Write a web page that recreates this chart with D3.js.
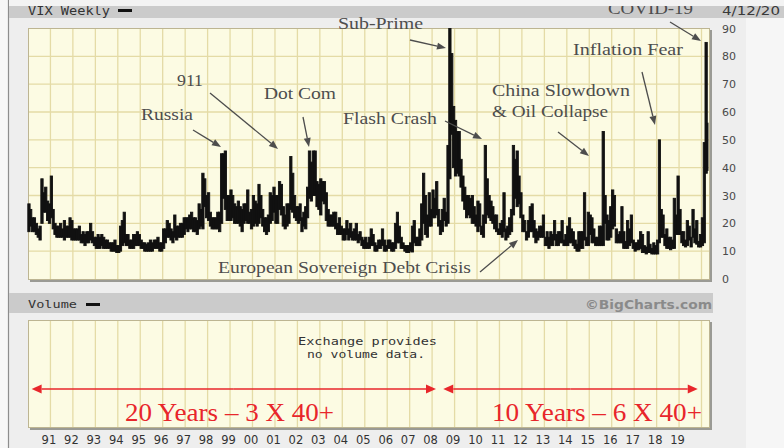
<!DOCTYPE html>
<html><head><meta charset="utf-8">
<script src="https://cdn.jsdelivr.net/npm/d3@7"></script>
<style>html,body{margin:0;padding:0;background:#fff;}svg{display:block}</style>
</head><body>
<svg id="c" width="784" height="448"></svg>
<script>
// ---- DATA: VIX weekly bars summarised per month (low / high), Jan 1990 .. Apr 2020 ----
const firstMonth = "1990-01";
const lastDate = "2020-04-13";
const monthlyLow = [
 17,19,17,17,16,15,14,20,24,24,21,20,   // 1990
 22,18,16,15,15,15,15,14,15,15,15,14,   // 1991
 14,14,14,14,13,13,12,13,13,14,13,12,   // 1992
 11,11,11,12,11,11,11,11,10,10,10,9.5,  // 1993
 9.5,10,12,13,12,12,11,11,11,12,12,12,  // 1994
 11,11,10,10,10,10,10,11,11,11,10,10,   // 1995
 11,13,15,15,14,13,15,14,15,15,15,16,   // 1996
 18,17,18,18,17,17,16,18,19,18,26,22,   // 1997
 21,19,18,18,18,18,17,20,29,25,21,21,   // 1998
 21,22,20,20,20,19,17,20,21,20,20,18,   // 1999
 19,20,19,20,22,19,17,16,17,20,21,24,   // 2000
 20,20,25,23,19,18,19,20,25,24,22,21,   // 2001
 20,21,17,19,18,22,29,28,30,30,26,25,   // 2002
 23,28,27,21,19,19,19,19,18,16,16,16,   // 2003
 14,14,16,14,15,14,14,14,13,14,12,11,   // 2004
 11,11,11,12,12,10,10,11,11,12,10,10,   // 2005
 11,11,10,10,11,13,13,11,11,10,9.5,9.5, // 2006
 10,9.7,13,12,12,12,14,20,16,15,19,19,  // 2007
 22,22,23,19,16,17,21,19,20,36,52,40,   // 2008
 37,38,37,33,28,25,22,23,22,20,20,19,   // 2009
 17,19,16,15,20,23,22,21,20,18,17,16,   // 2010
 16,15,17,14,15,16,17,23,29,26,27,22,   // 2011
 17,17,14,15,17,17,15,13,14,15,15,15,   // 2012
 12,12,11,12,12,14,12,12,13,13,12,12,   // 2013
 12,13,13,12,11,10,10,11,11,14,12,12,   // 2014
 16,13,13,12,12,12,12,12,20,14,14,15,   // 2015
 18,19,13,13,13,13,11,11,11,12,13,11,   // 2016
 10,10.5,10.5,11,9.5,9.5,9,9.5,9.5,9,9,9, // 2017
 9,13,15,15,12,11,11,10.5,11,11,16,16,  // 2018
 16,13,12,11.5,12,14,11.5,15,13,12.5,11.5,11.5, // 2019
 12,13,38,39                            // 2020
];
const monthlyHigh = [
 27,25,22,22,20,18,19,36,31,33,28,27,   // 1990
 37,25,20,19,19,20,18,21,19,19,22,21,   // 1991
 18,18,18,19,16,17,16,17,17,20,17,15,   // 1992
 15,16,15,16,15,14,14,13,13,13,14,12,   // 1993
 12,19,21,24,16,16,14,14,16,16,17,16,   // 1994
 14,13,13,12.5,13,14,13,14,14,15,13,13, // 1995
 18,18,21,20,18,17,23,19,19,20,20,22,   // 1996
 22,22,23,24,22,22,21,27,25,38,36,30,   // 1997
 31,24,22,22,22,24,24,45,45,46,30,30,   // 1998
 32,30,27,26,28,26,25,27,27,32,24,25,   // 1999
 30,28,27,34,30,25,22,22,23,31,30,33,   // 2000
 30,30,35,34,26,23,27,27,44,38,30,26,   // 2001
 26,27,22,24,26,33,46,42,46,46,35,34,   // 2002
 36,35,35,31,25,23,23,24,24,20,22,19,   // 2003
 18,18,21,18,20,17,18,20,16,17,15,14,   // 2004
 15,13,15,18,16,13,12,14,14,18,14,12,   // 2005
 14,14,13,13,20,24,19,15,13,12,12,12,   // 2006
 13,19,21,15,15,18,27,38,30,23,31,25,   // 2007
 32,29,35,25,21,25,29,24,48,90,81,62,   // 2008
 57,53,53,43,37,33,30,30,29,30,26,23,   // 2009
 28,27,19,23,48,36,30,28,26,23,23,18,   // 2010
 20,21,31,18,19,22,25,48,43,46,37,31,   // 2011
 23,21,17,21,26,27,21,18,17,19,19,23,   // 2012
 15,17,15,17,16,21,16,17,17,21,14,16,   // 2013
 19,22,18,17,14,12.5,17,17,17,31,15,24, // 2014
 23,22,18,15,15,19,19,53,30,23,21,26,   // 2015
 32,30,18,16,17,26,17,13.5,21,18,23,14, // 2016
 13,13,14,17,16,12,11.5,17,12.5,11,13,12, // 2017
 14,50,25,23,16,18,15,15,14,29,23,37,   // 2018
 25,17,17,14,21,19,15,25,18,21,13.5,16, // 2019
 22,49,85,56                            // 2020
];
const yTicks = [0,10,20,30,40,50,60,70,80,90];
const yearTicks = d3.range(1991, 2020);          // labelled years 91 .. 19
const gridYears = d3.range(1991, 2021);
const annotations = [
 {text:"Sub-Prime"}, {text:"911"}, {text:"Dot Com"}, {text:"Russia"},
 {text:"Flash Crash"}, {text:"China Slowdown"}, {text:"& Oil Collapse"},
 {text:"Inflation Fear"}, {text:"European Sovereign Debt Crisis"}, {text:"COVID-19"}
];
const periodNotes = ["20 Years \u2013 3 X 40+", "10 Years \u2013 6 X 40+"];

// ---- LAYOUT ----
const annLayout = [
 {x:338,y:29,w:85, ax:[410,40,446,48]},
 {x:177,y:86,w:26, ax:[210,93,278,149]},
 {x:264,y:99,w:72, ax:[303,117,309,147]},
 {x:141,y:120,w:52, ax:[193,130,221,147]},
 {x:343,y:124,w:94, ax:[445,121,482,139]},
 {x:492,y:96,w:138, ax:null},
 {x:492,y:117,w:116, ax:[558,132,589,156]},
 {x:573,y:55,w:110, ax:[642,72,655,125]},
 {x:218,y:273,w:253, ax:[480,272,518,240]},
 {x:608,y:14,w:85, ax:[670,22,701,41]}
];
const P = {l:28, r:710, t:28, b:280};
const V = {t:320, b:428};
const parse = d3.timeParse("%Y-%m");
const x = d3.scaleTime().domain([new Date(1990,0,1), new Date(2020,0,1)]).range([28, 701.5]);
const y = d3.scaleLinear().domain([0,90]).range([279, 28.5]);

const svg = d3.select("#c");
// backgrounds
svg.append("rect").attr("width",784).attr("height",448).attr("fill","#eeeeee");
svg.append("rect").attr("x",0).attr("y",0).attr("width",8).attr("height",448).attr("fill","#f7f7f7");
svg.append("rect").attr("x",746).attr("y",18).attr("width",38).attr("height",430).attr("fill","#f6f6f6");
svg.append("line").attr("x1",8.5).attr("x2",8.5).attr("y1",0).attr("y2",448).attr("stroke","#8d8d8d").attr("stroke-width",1.2);
svg.append("rect").attr("x",9).attr("y",0).attr("width",775).attr("height",18).attr("fill","#cbcbcb");
svg.append("rect").attr("x",9).attr("y",293).attr("width",704).attr("height",20).attr("fill","#cbcbcb");

// plot panels with shadow
function panel(top, bottom){
  svg.append("rect").attr("x",P.l+2).attr("y",top+2).attr("width",P.r-P.l).attr("height",bottom-top).attr("fill","#9a9a94");
  svg.append("rect").attr("x",P.l).attr("y",top).attr("width",P.r-P.l).attr("height",bottom-top).attr("fill","#fcfbe3");
}
panel(P.t, P.b);
panel(V.t, V.b);

const grid = svg.append("g").attr("stroke","#e4dba6").attr("stroke-width",1.3);
gridYears.forEach(yr=>{
  const gx = x(new Date(yr,0,1));
  grid.append("line").attr("x1",gx).attr("x2",gx).attr("y1",P.t).attr("y2",P.b);
  grid.append("line").attr("x1",gx).attr("x2",gx).attr("y1",V.t).attr("y2",V.b);
});
yTicks.filter(v=>v>0 && v<90).forEach(v=>{
  grid.append("line").attr("x1",P.l).attr("x2",P.r).attr("y1",y(v)).attr("y2",y(v));
});
// frame
[[P.t,P.b],[V.t,V.b]].forEach(([t,b])=>{
  svg.append("rect").attr("x",P.l+0.5).attr("y",t+0.5).attr("width",P.r-P.l-1).attr("height",b-t-1)
    .attr("fill","none").attr("stroke","#bdb592").attr("stroke-width",1);
});

// VIX bars
const bars = monthlyLow.map((lo,i)=>{
  const d0 = d3.timeMonth.offset(parse(firstMonth), i);
  let d1 = d3.timeMonth.offset(d0, 1);
  if (i === monthlyLow.length-1) d1 = new Date(lastDate);
  return {d0, d1, lo, hi: monthlyHigh[i]};
});
svg.append("g").selectAll("rect").data(bars).join("rect")
  .attr("x", d=>x(d.d0)-0.2)
  .attr("width", d=>Math.max(1, x(d.d1)-x(d.d0)+0.4))
  .attr("y", d=>y(d.hi))
  .attr("height", d=>Math.max(1, y(d.lo)-y(d.hi)))
  .attr("fill","#111").attr("stroke","#111").attr("stroke-width",0.9);

// y axis labels
const yAx = svg.append("g").attr("transform","translate(720,0)")
  .call(d3.axisRight(y).tickValues(yTicks).tickSize(0).tickPadding(2).tickFormat(d3.format("d")));
yAx.select(".domain").remove();
yAx.selectAll("text").attr("font-family","DejaVu Sans").attr("font-size",11).attr("fill","#4a4a4a");

// x axis year labels
const xAx = svg.append("g").attr("transform","translate(-2,436)")
  .call(d3.axisBottom(x).tickValues(yearTicks.map(v=>new Date(v,0,1))).tickSize(0).tickPadding(0).tickFormat(d3.timeFormat("%y")));
xAx.select(".domain").remove();
xAx.selectAll("text").attr("font-family","DejaVu Sans").attr("font-size",11.5).attr("fill","#333");

// header texts
svg.append("text").attr("x",28).attr("y",15).attr("font-family","DejaVu Sans Mono").attr("font-size",12)
  .attr("fill","#333").attr("textLength",82).attr("lengthAdjust","spacingAndGlyphs").text("VIX Weekly");
svg.append("rect").attr("x",118).attr("y",9).attr("width",14).attr("height",3).attr("fill","#111");
svg.append("text").attr("x",722).attr("y",15).attr("font-family","DejaVu Sans").attr("font-size",12)
  .attr("fill","#3a3a3a").attr("textLength",58).attr("lengthAdjust","spacingAndGlyphs").text("4/12/20");
svg.append("text").attr("x",28).attr("y",308).attr("font-family","DejaVu Sans Mono").attr("font-size",11)
  .attr("fill","#333").attr("textLength",49).attr("lengthAdjust","spacingAndGlyphs").text("Volume");
svg.append("rect").attr("x",86).attr("y",303).attr("width",14).attr("height",3).attr("fill","#111");
svg.append("text").attr("x",712).attr("y",309).attr("text-anchor","end").attr("font-family","DejaVu Sans").attr("font-weight","bold")
  .attr("font-size",12).attr("fill","#8a8a8a").attr("textLength",127).attr("lengthAdjust","spacingAndGlyphs").text("\u00a9BigCharts.com");
svg.append("text").attr("x",298).attr("y",345).attr("font-family","DejaVu Sans Mono").attr("font-size",11)
  .attr("fill","#333").attr("textLength",139).attr("lengthAdjust","spacingAndGlyphs").text("Exchange provides");
svg.append("text").attr("x",307).attr("y",358).attr("font-family","DejaVu Sans Mono").attr("font-size",11)
  .attr("fill","#333").attr("textLength",118).attr("lengthAdjust","spacingAndGlyphs").text("no volume data.");

// arrows helper
function arrow(g, x1,y1,x2,y2,color,w,len,hw){
  const a = Math.atan2(y2-y1,x2-x1);
  const bx = x2-len*Math.cos(a), by = y2-len*Math.sin(a);
  g.append("line").attr("x1",x1).attr("y1",y1).attr("x2",bx).attr("y2",by).attr("stroke",color).attr("stroke-width",w);
  const px = -Math.sin(a)*hw, py = Math.cos(a)*hw;
  g.append("path").attr("d",`M${x2},${y2}L${bx+px},${by+py}L${bx-px},${by-py}Z`).attr("fill",color);
}
const ann = svg.append("g");
annotations.forEach((a,i)=>{
  const L = annLayout[i];
  ann.append("text").attr("x",L.x).attr("y",L.y).attr("font-family","Liberation Serif").attr("font-size",17)
    .attr("fill","#4d4d4d").attr("textLength",L.w).attr("lengthAdjust","spacingAndGlyphs").text(a.text);
  if (L.ax) arrow(ann, L.ax[0],L.ax[1],L.ax[2],L.ax[3],"#4d4d4d",1.3,9,3.5);
});
// top strip where the picture was cropped
svg.append("rect").attr("x",9).attr("y",0).attr("width",775).attr("height",6).attr("fill","#f3f3f3");

// red period arrows
const red = "#e8262b";
const rg = svg.append("g");
function dbl(x1,x2,yy){
  arrow(rg, (x1+x2)/2, yy, x1, yy, red, 1.6, 10, 4.5);
  arrow(rg, (x1+x2)/2, yy, x2, yy, red, 1.6, 10, 4.5);
}
dbl(x(new Date(1990,2,1)), x(new Date(2008,1,1))+2, 389);
dbl(x(new Date(2008,6,1)), x(new Date(2019,10,1)), 389);
rg.append("text").attr("x",125).attr("y",421).attr("font-family","Liberation Serif").attr("font-size",25)
  .attr("fill",red).attr("textLength",209).attr("lengthAdjust","spacingAndGlyphs").text(periodNotes[0]);
rg.append("text").attr("x",492).attr("y",421).attr("font-family","Liberation Serif").attr("font-size",25)
  .attr("fill",red).attr("textLength",210).attr("lengthAdjust","spacingAndGlyphs").text(periodNotes[1]);
</script>
</body></html>
